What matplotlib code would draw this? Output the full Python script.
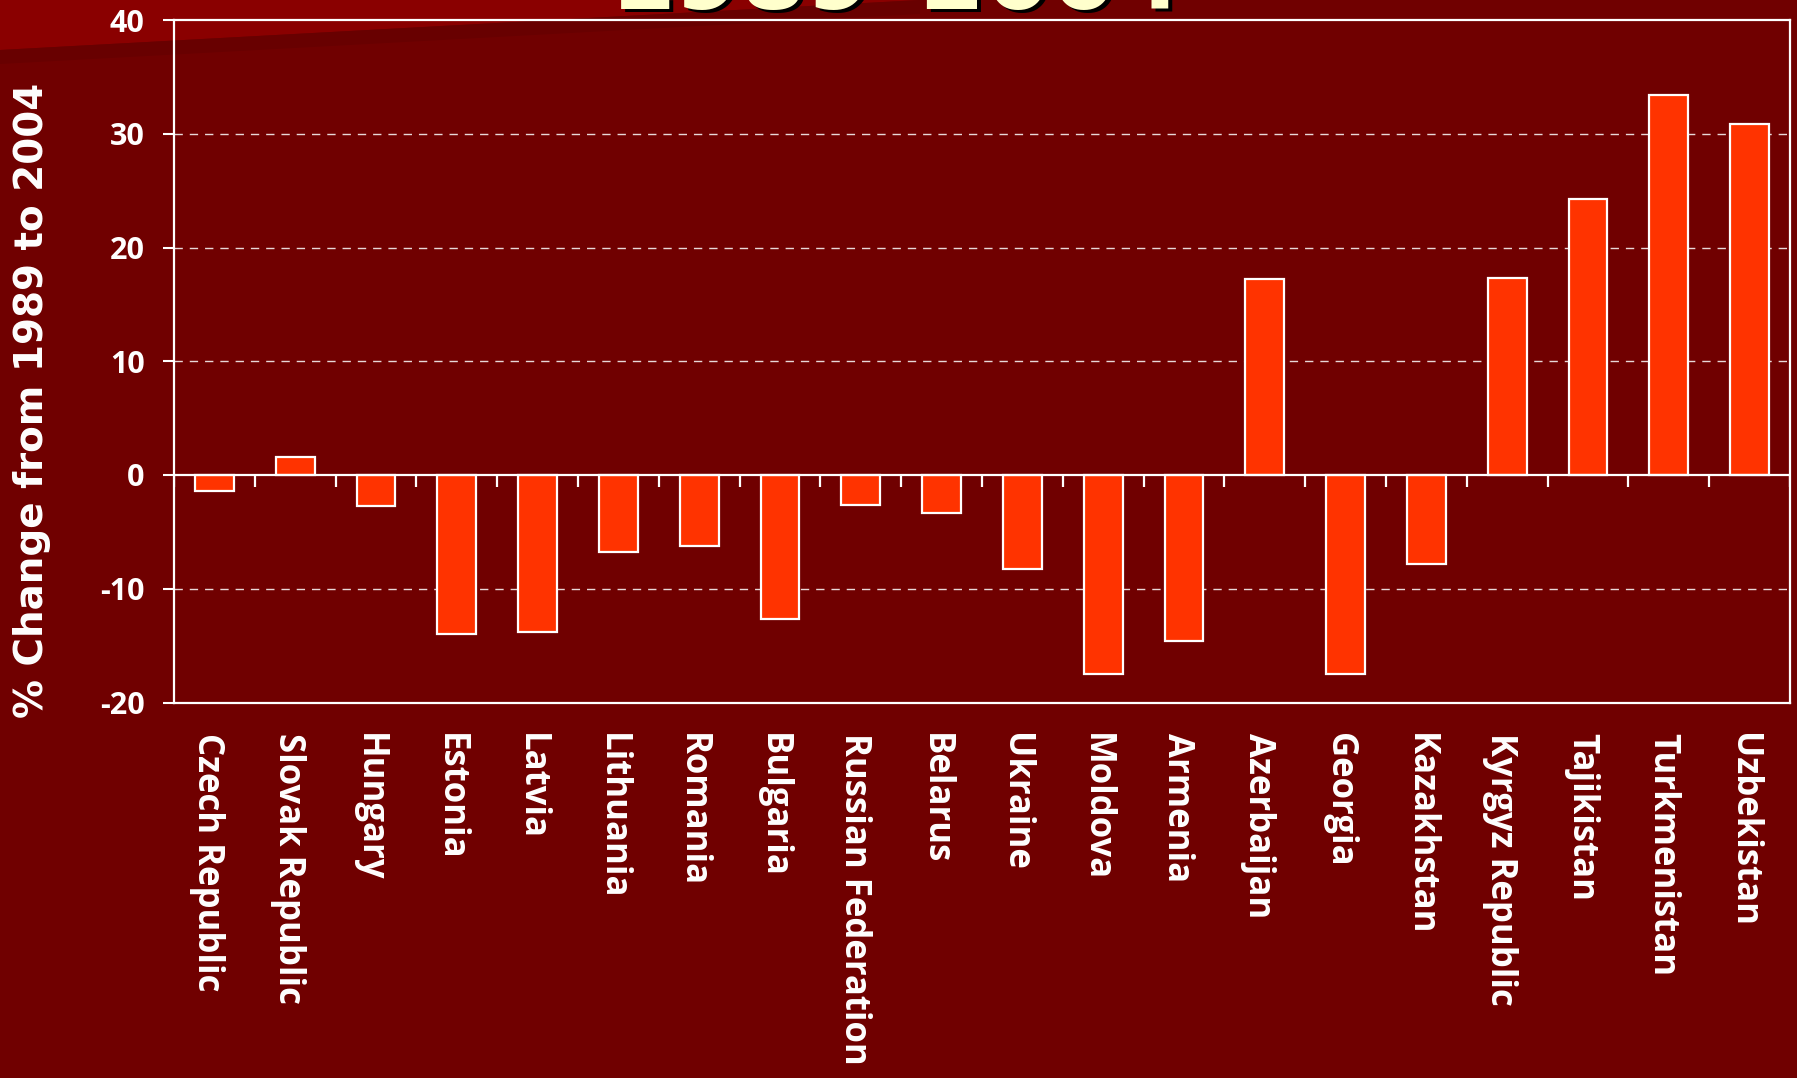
import numpy as np
import matplotlib
matplotlib.use('Agg')
from matplotlib import pyplot as plt
from matplotlib.patches import Polygon
from matplotlib.transforms import ScaledTranslation

# Laender og endring i prosent fra 1989 til 2004
countries = ['Czech Republic', 'Slovak Republic', 'Hungary', 'Estonia', 'Latvia',
             'Lithuania', 'Romania', 'Bulgaria', 'Russian Federation', 'Belarus',
             'Ukraine', 'Moldova', 'Armenia', 'Azerbaijan', 'Georgia',
             'Kazakhstan', 'Kyrgyz Republic', 'Tajikistan', 'Turkmenistan', 'Uzbekistan']
change = [-1.4, 1.6, -2.7, -14.0, -13.8, -6.8, -6.2, -12.7, -2.6, -3.3,
          -8.3, -17.5, -14.6, 17.2, -17.5, -7.8, 17.3, 24.3, 33.4, 30.9]
yticks = [-20, -10, 0, 10, 20, 30, 40]
title = '1989\u20132004'
ylabel = '% Change from 1989 to 2004'

bg = '#700000'
bar_col = '#ff3300'
plt.rcParams['font.family'] = ['Open Sans', 'DejaVu Sans']
plt.rcParams['font.weight'] = 'bold'

fig = plt.figure(figsize=(17.97, 10.78), dpi=100, facecolor=bg)

# Bakgrunn: lysere kile oppe til venstre
fig.add_artist(Polygon([(0, 1), (0, 1 - 50/1078), (920/1797, 1)],
                       closed=True, transform=fig.transFigure,
                       facecolor='#8a0000', edgecolor='none', zorder=0))
fig.add_artist(Polygon([(0, 1 - 50/1078), (0, 1 - 64/1078), (920/1797, 1 - 14/1078), (920/1797, 1)],
                       closed=True, transform=fig.transFigure,
                       facecolor='#680000', edgecolor='none', zorder=0))

# Tittel, delvis utenfor bildet
fig.text(0.4985 + 4/1797, 1 - 12/1078, title, ha='center', va='baseline',
         fontsize=68, fontweight='bold', color='black', family='DejaVu Sans')
fig.text(0.4985, 1 - 9/1078, title, ha='center', va='baseline',
         fontsize=68, fontweight='bold', color='#ffffcc', family='DejaVu Sans')

ax = fig.add_axes([174/1797, 1 - 702.5/1078, 1616/1797, 682.5/1078])
ax.set_facecolor('none')

x = np.arange(len(countries))
ax.bar(x, change, width=0.48, color=bar_col, edgecolor='white', linewidth=1.6, zorder=3)

ax.set_xlim(-0.5, len(countries) - 0.5)
ax.set_ylim(yticks[0], yticks[-1])

# Stiplet rutenett
for yv in yticks[1:-1]:
    if yv != 0:
        ax.axhline(yv, color='#e8d8d8', lw=1.0, ls=(0, (6, 5)), zorder=1)

# Nullinje med streker mellom kategoriene
ax.axhline(0, color='white', lw=1.6, zorder=4)
ax.vlines(np.arange(len(countries) + 1) - 0.5, -1.05, 0, color='white', lw=1.6, zorder=4)

for s in ax.spines.values():
    s.set_color('white')
    s.set_linewidth(1.6)

ax.set_yticks(yticks)
ax.set_yticklabels([str(v) for v in yticks])
ax.tick_params(axis='y', colors='white', length=8, width=1.5, pad=13, labelsize=22)
ax.set_xticks(x)
ax.set_xticklabels(countries, rotation=270, va='top', ha='center')
ax.tick_params(axis='x', colors='white', length=0, pad=22, labelsize=25)
shift = ScaledTranslation(-7/100, 0, fig.dpi_scale_trans)
for t in ax.get_xticklabels():
    t.set_transform(t.get_transform() + shift)
for t in ax.get_xticklabels() + ax.get_yticklabels():
    t.set_fontweight('bold')

fig.text(32/1797, 1 - 400/1078, ylabel, rotation=90, ha='center', va='center',
         fontsize=28, fontweight='bold', color='white', family='DejaVu Sans')

fig.savefig('out.png', dpi=100, facecolor=bg)
